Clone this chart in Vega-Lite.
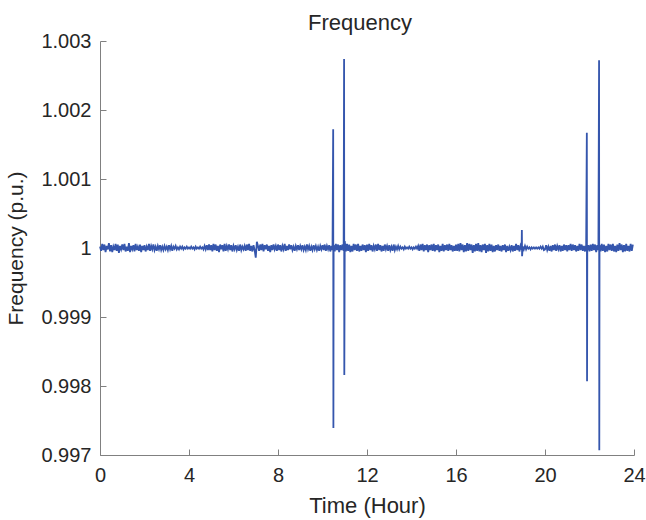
{
"$schema": "https://vega.github.io/schema/vega-lite/v6.json",
"width": 534, "height": 414,
"autosize": "none",
"padding": {"left": 100, "top": 41, "right": 12, "bottom": 65},
"background": "white",
"title": {"text": "Frequency", "fontSize": 22, "font": "Liberation Sans", "fontWeight": "normal", "color": "#262626", "offset": -4, "dx": -7},
"config": {
  "view": {"stroke": null},
  "axis": {"grid": false, "domainColor": "#808080", "tickColor": "#808080", "tickSize": -6, "labelFont": "Liberation Sans", "labelFontSize": 20, "labelColor": "#262626", "titleFont": "Liberation Sans", "titleFontSize": 22, "titleFontWeight": "normal", "titleColor": "#262626"}
},
"data": {"values": [
{"t":0,"f":1.00002},{"t":0.05,"f":0.99996},{"t":0.1,"f":1.00006},{"t":0.15,"f":0.99997},{"t":0.2,"f":1.00005},{"t":0.25,"f":0.99994},{"t":0.3,"f":1.00003},{"t":0.35,"f":0.99998},{"t":0.4,"f":1.00007},{"t":0.45,"f":0.99995},{"t":0.5,"f":1.00004},{"t":0.55,"f":0.99994},{"t":0.6,"f":1.00002},{"t":0.65,"f":0.99997},{"t":0.7,"f":1.00006},{"t":0.75,"f":0.99996},{"t":0.8,"f":1.00005},{"t":0.85,"f":0.99993},{"t":0.9,"f":1.00003},{"t":0.95,"f":0.99998},
{"t":1,"f":1.00005},{"t":1.05,"f":0.99997},{"t":1.1,"f":1.00006},{"t":1.15,"f":0.99995},{"t":1.2,"f":1.00002},{"t":1.25,"f":0.99996},{"t":1.3,"f":1.00007},{"t":1.35,"f":0.99994},{"t":1.4,"f":1.00003},{"t":1.45,"f":0.99998},{"t":1.5,"f":1.00004},{"t":1.55,"f":0.99995},{"t":1.6,"f":1.00006},{"t":1.65,"f":0.99997},{"t":1.7,"f":1.00002},{"t":1.75,"f":0.99996},{"t":1.8,"f":1.00005},{"t":1.85,"f":0.99994},{"t":1.9,"f":1.00003},{"t":1.95,"f":0.99997},
{"t":2,"f":1.00004},{"t":2.05,"f":0.99995},{"t":2.1,"f":1.00002},{"t":2.15,"f":0.99997},{"t":2.2,"f":1.00006},{"t":2.25,"f":0.99996},{"t":2.3,"f":1.00003},{"t":2.35,"f":0.99998},{"t":2.4,"f":1.00005},{"t":2.45,"f":0.99997},{"t":2.5,"f":1.00002},{"t":2.55,"f":0.99996},{"t":2.6,"f":1.00003},{"t":2.65,"f":0.99998},{"t":2.7,"f":1.00004},{"t":2.75,"f":0.99997},{"t":2.8,"f":1.00002},{"t":2.85,"f":0.99997},{"t":2.9,"f":1.00003},{"t":2.95,"f":0.99998},
{"t":3,"f":1.00002},{"t":3.05,"f":0.99997},{"t":3.1,"f":1.00004},{"t":3.15,"f":0.99998},{"t":3.2,"f":1.00003},{"t":3.25,"f":0.99996},{"t":3.3,"f":1.00002},{"t":3.35,"f":0.99999},{"t":3.4,"f":1.00003},{"t":3.45,"f":0.99998},{"t":3.5,"f":1.00001},{"t":3.55,"f":0.99998},{"t":3.6,"f":1.00002},{"t":3.65,"f":0.99999},{"t":3.7,"f":1.00002},{"t":3.75,"f":0.99998},{"t":3.8,"f":1.00001},{"t":3.85,"f":0.99999},{"t":3.9,"f":1.00002},{"t":3.95,"f":0.99999},
{"t":4,"f":1.00001},{"t":4.05,"f":0.99999},{"t":4.1,"f":1.00002},{"t":4.15,"f":0.99999},{"t":4.2,"f":1.00001},{"t":4.25,"f":0.99998},{"t":4.3,"f":1.00002},{"t":4.35,"f":0.99999},{"t":4.4,"f":1.00001},{"t":4.45,"f":0.99999},{"t":4.5,"f":1.00002},{"t":4.55,"f":0.99999},{"t":4.6,"f":1.00001},{"t":4.65,"f":0.99998},{"t":4.7,"f":1.00003},{"t":4.75,"f":0.99998},{"t":4.8,"f":1.00004},{"t":4.85,"f":0.99997},{"t":4.9,"f":1.00005},{"t":4.95,"f":0.99997},
{"t":5,"f":1.00004},{"t":5.05,"f":0.99995},{"t":5.1,"f":1.00006},{"t":5.15,"f":0.99997},{"t":5.2,"f":1.00005},{"t":5.25,"f":0.99996},{"t":5.3,"f":1.00003},{"t":5.35,"f":0.99994},{"t":5.4,"f":1.00005},{"t":5.45,"f":0.99998},{"t":5.5,"f":1.00004},{"t":5.55,"f":0.99995},{"t":5.6,"f":1.00006},{"t":5.65,"f":0.99996},{"t":5.7,"f":1.00003},{"t":5.75,"f":0.99998},{"t":5.8,"f":1.00005},{"t":5.85,"f":0.99997},{"t":5.9,"f":1.00004},{"t":5.95,"f":0.99995},
{"t":6,"f":1.00003},{"t":6.05,"f":0.99998},{"t":6.1,"f":1.00004},{"t":6.15,"f":0.99997},{"t":6.2,"f":1.00002},{"t":6.25,"f":0.99996},{"t":6.3,"f":1.00005},{"t":6.35,"f":0.99997},{"t":6.4,"f":1.00002},{"t":6.45,"f":0.99998},{"t":6.5,"f":1.00003},{"t":6.55,"f":0.99996},{"t":6.6,"f":1.00005},{"t":6.65,"f":0.99997},{"t":6.7,"f":1.00006},{"t":6.75,"f":0.99996},{"t":6.8,"f":1.00003},{"t":6.85,"f":0.99995},{"t":6.9,"f":1.00004},{"t":6.95,"f":0.99997},
{"t":7,"f":0.99986},{"t":7.05,"f":1.00009},{"t":7.1,"f":1.00003},{"t":7.15,"f":0.99996},{"t":7.2,"f":1.00005},{"t":7.25,"f":0.99997},{"t":7.3,"f":1.00006},{"t":7.35,"f":0.99995},{"t":7.4,"f":1.00004},{"t":7.45,"f":0.99998},{"t":7.5,"f":1.00005},{"t":7.55,"f":0.99996},{"t":7.6,"f":1.00003},{"t":7.65,"f":0.99994},{"t":7.7,"f":1.00004},{"t":7.75,"f":0.99997},{"t":7.8,"f":1.00005},{"t":7.85,"f":0.99998},{"t":7.9,"f":1.00003},{"t":7.95,"f":0.99996},
{"t":8,"f":1.00005},{"t":8.05,"f":0.99997},{"t":8.1,"f":1.00004},{"t":8.15,"f":0.99995},{"t":8.2,"f":1.00003},{"t":8.25,"f":0.99998},{"t":8.3,"f":1.00006},{"t":8.35,"f":0.99996},{"t":8.4,"f":1.00003},{"t":8.45,"f":0.99997},{"t":8.5,"f":1.00005},{"t":8.55,"f":0.99998},{"t":8.6,"f":1.00004},{"t":8.65,"f":0.99997},{"t":8.7,"f":1.00002},{"t":8.75,"f":0.99996},{"t":8.8,"f":1.00003},{"t":8.85,"f":0.99998},{"t":8.9,"f":1.00004},{"t":8.95,"f":0.99997},
{"t":9,"f":1.00003},{"t":9.05,"f":0.99998},{"t":9.1,"f":1.00004},{"t":9.15,"f":0.99997},{"t":9.2,"f":1.00002},{"t":9.25,"f":0.99997},{"t":9.3,"f":1.00005},{"t":9.35,"f":0.99998},{"t":9.4,"f":1.00003},{"t":9.45,"f":0.99996},{"t":9.5,"f":1.00002},{"t":9.55,"f":0.99997},{"t":9.6,"f":1.00004},{"t":9.65,"f":0.99998},{"t":9.7,"f":1.00003},{"t":9.75,"f":0.99997},{"t":9.8,"f":1.00002},{"t":9.85,"f":0.99996},{"t":9.9,"f":1.00003},{"t":9.95,"f":0.99998},
{"t":10,"f":1.00004},{"t":10.05,"f":0.99997},{"t":10.1,"f":1.00005},{"t":10.15,"f":0.99996},{"t":10.2,"f":1.00003},{"t":10.25,"f":0.99998},{"t":10.3,"f":1.00004},{"t":10.35,"f":0.99995},{"t":10.4,"f":1.00003},{"t":10.45,"f":0.99997},{"t":10.48,"f":1.00172},{"t":10.49,"f":0.99739},{"t":10.5,"f":1.00004},{"t":10.55,"f":0.99995},{"t":10.6,"f":1.00006},{"t":10.65,"f":0.99997},{"t":10.7,"f":1.00005},{"t":10.75,"f":0.99994},{"t":10.8,"f":1.00004},{"t":10.85,"f":0.99997},{"t":10.9,"f":1.00005},{"t":10.95,"f":0.99996},{"t":10.97,"f":1.00274},{"t":10.98,"f":0.99816},
{"t":11,"f":1.0001},{"t":11.05,"f":0.99995},{"t":11.1,"f":1.00006},{"t":11.15,"f":0.99996},{"t":11.2,"f":1.00005},{"t":11.25,"f":0.99994},{"t":11.3,"f":1.00003},{"t":11.35,"f":0.99995},{"t":11.4,"f":1.00006},{"t":11.45,"f":0.99997},{"t":11.5,"f":1.00005},{"t":11.55,"f":0.99996},{"t":11.6,"f":1.00006},{"t":11.65,"f":0.99995},{"t":11.7,"f":1.00003},{"t":11.75,"f":0.99996},{"t":11.8,"f":1.00005},{"t":11.85,"f":0.99997},{"t":11.9,"f":1.00004},{"t":11.95,"f":0.99994},
{"t":12,"f":1.00005},{"t":12.05,"f":0.99996},{"t":12.1,"f":1.00006},{"t":12.15,"f":0.99997},{"t":12.2,"f":1.00004},{"t":12.25,"f":0.99995},{"t":12.3,"f":1.00003},{"t":12.35,"f":0.99998},{"t":12.4,"f":1.00005},{"t":12.45,"f":0.99996},{"t":12.5,"f":1.00006},{"t":12.55,"f":0.99997},{"t":12.6,"f":1.00004},{"t":12.65,"f":0.99995},{"t":12.7,"f":1.00003},{"t":12.75,"f":0.99996},{"t":12.8,"f":1.00005},{"t":12.85,"f":0.99998},{"t":12.9,"f":1.00003},{"t":12.95,"f":0.99996},
{"t":13,"f":1.00004},{"t":13.05,"f":0.99997},{"t":13.1,"f":1.00002},{"t":13.15,"f":0.99996},{"t":13.2,"f":1.00005},{"t":13.25,"f":0.99997},{"t":13.3,"f":1.00002},{"t":13.35,"f":0.99998},{"t":13.4,"f":1.00003},{"t":13.45,"f":0.99998},{"t":13.5,"f":1.00002},{"t":13.55,"f":0.99999},{"t":13.6,"f":1.00001},{"t":13.65,"f":0.99998},{"t":13.7,"f":1.00002},{"t":13.75,"f":0.99999},{"t":13.8,"f":1.00001},{"t":13.85,"f":0.99999},{"t":13.9,"f":1.00002},{"t":13.95,"f":0.99999},
{"t":14,"f":1.00001},{"t":14.05,"f":0.99998},{"t":14.1,"f":1.00001},{"t":14.15,"f":0.99999},{"t":14.2,"f":1.00002},{"t":14.25,"f":0.99999},{"t":14.3,"f":1.00003},{"t":14.35,"f":0.99996},{"t":14.4,"f":1.00005},{"t":14.45,"f":0.99997},{"t":14.5,"f":1.00006},{"t":14.55,"f":0.99995},{"t":14.6,"f":1.00004},{"t":14.65,"f":0.99997},{"t":14.7,"f":1.00005},{"t":14.75,"f":0.99994},{"t":14.8,"f":1.00004},{"t":14.85,"f":0.99997},{"t":14.9,"f":1.00005},{"t":14.95,"f":0.99996},
{"t":15,"f":1.00006},{"t":15.05,"f":0.99995},{"t":15.1,"f":1.00004},{"t":15.15,"f":0.99997},{"t":15.2,"f":1.00005},{"t":15.25,"f":0.99994},{"t":15.3,"f":1.00003},{"t":15.35,"f":0.99996},{"t":15.4,"f":1.00006},{"t":15.45,"f":0.99995},{"t":15.5,"f":1.00004},{"t":15.55,"f":0.99997},{"t":15.6,"f":1.00005},{"t":15.65,"f":0.99996},{"t":15.7,"f":1.00006},{"t":15.75,"f":0.99997},{"t":15.8,"f":1.00004},{"t":15.85,"f":0.99995},{"t":15.9,"f":1.00003},{"t":15.95,"f":0.99996},
{"t":16,"f":1.00005},{"t":16.05,"f":0.99996},{"t":16.1,"f":1.00006},{"t":16.15,"f":0.99995},{"t":16.2,"f":1.00007},{"t":16.25,"f":0.99997},{"t":16.3,"f":1.00005},{"t":16.35,"f":0.99994},{"t":16.4,"f":1.00004},{"t":16.45,"f":0.99995},{"t":16.5,"f":1.00007},{"t":16.55,"f":0.99996},{"t":16.6,"f":1.00006},{"t":16.65,"f":0.99997},{"t":16.7,"f":1.00005},{"t":16.75,"f":0.99993},{"t":16.8,"f":1.00004},{"t":16.85,"f":0.99995},{"t":16.9,"f":1.00006},{"t":16.95,"f":0.99996},
{"t":17,"f":1.00007},{"t":17.05,"f":0.99995},{"t":17.1,"f":1.00004},{"t":17.15,"f":0.99994},{"t":17.2,"f":1.00005},{"t":17.25,"f":0.99997},{"t":17.3,"f":1.00006},{"t":17.35,"f":0.99993},{"t":17.4,"f":1.00004},{"t":17.45,"f":0.99995},{"t":17.5,"f":1.00006},{"t":17.55,"f":0.99996},{"t":17.6,"f":1.00005},{"t":17.65,"f":0.99994},{"t":17.7,"f":1.00003},{"t":17.75,"f":0.99995},{"t":17.8,"f":1.00004},{"t":17.85,"f":0.99997},{"t":17.9,"f":1.00005},{"t":17.95,"f":0.99996},
{"t":18,"f":1.00003},{"t":18.05,"f":0.99995},{"t":18.1,"f":1.00004},{"t":18.15,"f":0.99997},{"t":18.2,"f":1.00005},{"t":18.25,"f":0.99994},{"t":18.3,"f":1.00003},{"t":18.35,"f":0.99996},{"t":18.4,"f":1.00002},{"t":18.45,"f":0.99997},{"t":18.5,"f":1.00004},{"t":18.55,"f":0.99995},{"t":18.6,"f":1.00003},{"t":18.65,"f":0.99996},{"t":18.7,"f":1.00006},{"t":18.75,"f":0.99997},{"t":18.8,"f":1.00004},{"t":18.85,"f":0.99995},{"t":18.9,"f":1.00003},{"t":18.95,"f":0.99998},{"t":18.96,"f":1.00026},{"t":18.97,"f":0.99988},
{"t":19,"f":1.00002},{"t":19.05,"f":0.99998},{"t":19.1,"f":1.00003},{"t":19.15,"f":0.99998},{"t":19.2,"f":1.00002},{"t":19.25,"f":0.99999},{"t":19.3,"f":1.00001},{"t":19.35,"f":0.99998},{"t":19.4,"f":1.00001},{"t":19.45,"f":0.99999},{"t":19.5,"f":1.00001},{"t":19.55,"f":0.99999},{"t":19.6,"f":1.00001},{"t":19.65,"f":0.99999},{"t":19.7,"f":1.00001},{"t":19.75,"f":0.99999},{"t":19.8,"f":1.00002},{"t":19.85,"f":0.99999},{"t":19.9,"f":1.00002},{"t":19.95,"f":0.99997},
{"t":20,"f":0.99998},{"t":20.05,"f":1.00004},{"t":20.1,"f":0.99997},{"t":20.15,"f":1.00002},{"t":20.2,"f":0.99996},{"t":20.25,"f":1.00003},{"t":20.3,"f":0.99995},{"t":20.35,"f":1.00004},{"t":20.4,"f":0.99997},{"t":20.45,"f":1.00005},{"t":20.5,"f":0.99996},{"t":20.55,"f":1.00003},{"t":20.6,"f":0.99998},{"t":20.65,"f":1.00004},{"t":20.7,"f":0.99995},{"t":20.75,"f":1.00003},{"t":20.8,"f":0.99996},{"t":20.85,"f":1.00005},{"t":20.9,"f":0.99997},{"t":20.95,"f":1.00004},
{"t":21,"f":0.99995},{"t":21.05,"f":1.00004},{"t":21.1,"f":0.99997},{"t":21.15,"f":1.00006},{"t":21.2,"f":0.99996},{"t":21.25,"f":1.00005},{"t":21.3,"f":0.99997},{"t":21.35,"f":1.00004},{"t":21.4,"f":0.99995},{"t":21.45,"f":1.00003},{"t":21.5,"f":0.99996},{"t":21.55,"f":1.00006},{"t":21.6,"f":0.99997},{"t":21.65,"f":1.00005},{"t":21.7,"f":0.99996},{"t":21.75,"f":1.00003},{"t":21.8,"f":0.99995},{"t":21.85,"f":1.00004},{"t":21.88,"f":1.00167},{"t":21.89,"f":0.99807},{"t":21.9,"f":0.99997},{"t":21.95,"f":1.00004},
{"t":22,"f":0.99995},{"t":22.05,"f":1.00005},{"t":22.1,"f":0.99996},{"t":22.15,"f":1.00006},{"t":22.2,"f":0.99997},{"t":22.25,"f":1.00005},{"t":22.3,"f":0.99994},{"t":22.35,"f":1.00004},{"t":22.4,"f":0.99997},{"t":22.43,"f":1.00272},{"t":22.44,"f":0.99707},{"t":22.45,"f":1.00004},{"t":22.5,"f":0.99995},{"t":22.55,"f":1.00006},{"t":22.6,"f":0.99996},{"t":22.65,"f":1.00005},{"t":22.7,"f":0.99994},{"t":22.75,"f":1.00003},{"t":22.8,"f":0.99995},{"t":22.85,"f":1.00006},{"t":22.9,"f":0.99997},{"t":22.95,"f":1.00005},
{"t":23,"f":0.99996},{"t":23.05,"f":1.00006},{"t":23.1,"f":0.99995},{"t":23.15,"f":1.00003},{"t":23.2,"f":0.99994},{"t":23.25,"f":1.00005},{"t":23.3,"f":0.99996},{"t":23.35,"f":1.00007},{"t":23.4,"f":0.99997},{"t":23.45,"f":1.00005},{"t":23.5,"f":0.99994},{"t":23.55,"f":1.00004},{"t":23.6,"f":0.99995},{"t":23.65,"f":1.00006},{"t":23.7,"f":0.99996},{"t":23.75,"f":1.00003},{"t":23.8,"f":0.99995},{"t":23.85,"f":1.00006},{"t":23.9,"f":0.99996},{"t":23.95,"f":1.00005}
]},
"mark": {"type": "line", "color": "#3556ad", "strokeWidth": 1.8},
"encoding": {
  "x": {"field": "t", "type": "quantitative", "scale": {"domain": [0, 24], "nice": false}, "axis": {"values": [0, 4, 8, 12, 16, 20, 24], "title": "Time (Hour)", "labelPadding": 16, "titlePadding": 10, "labelFlush": false}},
  "y": {"field": "f", "type": "quantitative", "scale": {"domain": [0.997, 1.003], "nice": false, "zero": false}, "axis": {"values": [0.997, 0.998, 0.999, 1, 1.001, 1.002, 1.003], "format": ".3~f", "title": "Frequency (p.u.)", "titleFontSize": 21, "labelPadding": 15, "titlePadding": 14}}
}
}
